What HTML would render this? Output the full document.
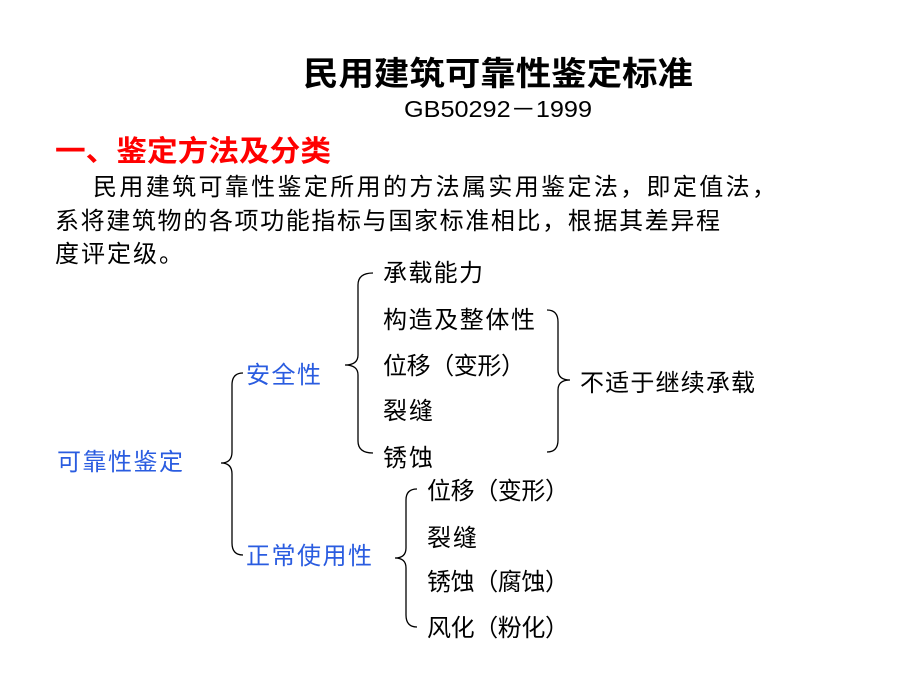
<!DOCTYPE html>
<html><head><meta charset="utf-8"><style>
html,body{margin:0;padding:0;background:#fff;}
svg{display:block;font-family:"Liberation Sans","Noto Sans CJK SC",sans-serif;}
</style></head><body>
<svg width="920" height="690" viewBox="0 0 920 690">
<g fill="#000">
<text x="303" y="85" font-size="33" font-weight="bold" textLength="390" lengthAdjust="spacingAndGlyphs">民用建筑可靠性鉴定标准</text>
<text x="404" y="117" font-size="23" textLength="188" lengthAdjust="spacingAndGlyphs">GB50292－1999</text>
</g>
<text x="55" y="161" font-size="29" font-weight="bold" fill="#f00" textLength="276" lengthAdjust="spacingAndGlyphs">一、鉴定方法及分类</text>
<g font-size="24" fill="#000">
<text x="93" y="195" textLength="683">民用建筑可靠性鉴定所用的方法属实用鉴定法，即定值法，</text>
<text x="55" y="229" textLength="665">系将建筑物的各项功能指标与国家标准相比，根据其差异程</text>
<text x="55" y="262" textLength="128">度评定级。</text>
<text x="383" y="281" textLength="100">承载能力</text>
<text x="383" y="328" textLength="152">构造及整体性</text>
<text x="383" y="374" textLength="142">位移（变形）</text>
<text x="383" y="419" textLength="50">裂缝</text>
<text x="383" y="466" textLength="50">锈蚀</text>
<text x="580" y="391" textLength="175">不适于继续承载</text>
<text x="427" y="499" textLength="142">位移（变形）</text>
<text x="427" y="546" textLength="50">裂缝</text>
<text x="427" y="590" textLength="142">锈蚀（腐蚀）</text>
<text x="427" y="636" textLength="142">风化（粉化）</text>
</g>
<g font-size="24" fill="#2a5ce0">
<text x="246" y="383" textLength="75">安全性</text>
<text x="57" y="470" textLength="126">可靠性鉴定</text>
<text x="246" y="564" textLength="126">正常使用性</text>
</g>
<g fill="none" stroke="#000" stroke-width="1.3">
<path d="M243 373 Q232 373 232 385 L232 452 Q232 463 221 463 Q232 463 232 474 L232 543 Q232 555 243 555"/>
<path d="M373 273 Q358 273 358 285 L358 355 Q358 365 345 365 Q358 365 358 375 L358 441 Q358 453 373 453"/>
<path d="M547 310 Q558 310 558 322 L558 370 Q558 380 570 380 Q558 380 558 390 L558 440 Q558 452 547 452"/>
<path d="M417 489 Q406 489 406 500 L406 548 Q406 558 395 558 Q406 558 406 568 L406 615 Q406 627 417 627"/>
</g>
</svg>
</body></html>
